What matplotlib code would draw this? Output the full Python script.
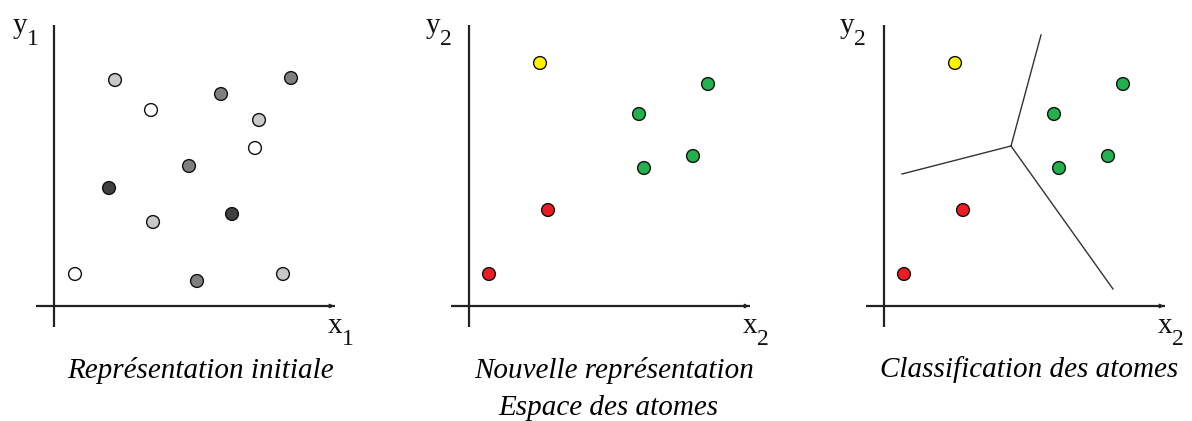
import matplotlib.pyplot as plt

# panel 1: initial representation (x1, y1), grey levels = atom types
init_x = [61, 97, 167, 237, 205, 201, 135, 55, 99, 178, 21, 143, 229]
init_y = [226, 196, 212, 228, 186, 158, 140, 118, 84, 92, 32, 25, 32]
init_fill = ["#c8c8c8", "#ffffff", "#808080", "#808080", "#c8c8c8", "#ffffff", "#808080",
             "#404040", "#c8c8c8", "#404040", "#ffffff", "#808080", "#c8c8c8"]

# panels 2 and 3: atom space (x2, y2)
atom_x = [71, 239, 170, 224, 175, 79, 20]
atom_y = [243, 222, 192, 150, 138, 96, 32]
atom_fill = ["#fff200", "#22b14c", "#22b14c", "#22b14c", "#22b14c", "#ed1c24", "#ed1c24"]

# classification boundaries (from the junction point outwards)
center = (127, 160)
bound_ends = [(157, 271), (18, 132), (229, 17)]

W, H = 1192, 421
plt.rcParams["font.family"] = ["Liberation Serif", "DejaVu Serif"]

fig = plt.figure(figsize=(W / 100, H / 100), dpi=100)


def make_panel(left, right, origin_x, origin_y=306):
    ax = fig.add_axes([left / W, 0, (right - left) / W, 1])
    ax.set_xlim(left - origin_x, right - origin_x)
    ax.set_ylim(origin_y - H, origin_y)
    ax.axis("off")
    # axes drawn by hand
    ax.plot([0, 0], [-21, 281], color="#222222", lw=1.6, solid_capstyle="butt")
    ax.plot([-18, 281], [0, 0], color="#222222", lw=1.6, solid_capstyle="butt")
    ax.annotate("", xy=(283, 0), xytext=(276, 0),
                arrowprops=dict(arrowstyle="-|>", color="#222222", lw=1.0,
                                mutation_scale=6))
    return ax


def sub_label(ax, letter, index, x, y):
    ax.text(x, y, letter, fontsize=21, ha="left", va="baseline", color="#111111")
    ax.text(x + 14, y - 12, index, fontsize=17, ha="left", va="baseline", color="#111111")


def axis_labels(ax, xname, yname, idx, ylab_x):
    sub_label(ax, xname, idx, 274, -27)
    sub_label(ax, yname, idx, ylab_x, 273)


def caption(ax, x, y, s):
    ax.text(x, y, s, fontsize=21, style="italic", ha="center", va="center")


ax1 = make_panel(0, 400, 54)
ax1.scatter(init_x, init_y, s=85, c=init_fill, edgecolors="#111111", linewidths=1.0,
            zorder=3, clip_on=False)
axis_labels(ax1, "x", "y", "1", -41)
caption(ax1, 200 - 54, 306 - 370, "Représentation initiale")

ax2 = make_panel(400, 800, 469)
ax2.scatter(atom_x, atom_y, s=85, c=atom_fill, edgecolors="#111111", linewidths=1.0,
            zorder=3, clip_on=False)
axis_labels(ax2, "x", "y", "2", -43)
caption(ax2, 614 - 469, 306 - 370, "Nouvelle représentation")
caption(ax2, 608 - 469, 306 - 408, "Espace des atomes")

ax3 = make_panel(800, 1192, 884)
for ex, ey in bound_ends:
    ax3.plot([center[0], ex], [center[1], ey], color="#333333", lw=1.0)
ax3.scatter(atom_x, atom_y, s=85, c=atom_fill, edgecolors="#111111", linewidths=1.0,
            zorder=3, clip_on=False)
axis_labels(ax3, "x", "y", "2", -44)
caption(ax3, 1029 - 884, 306 - 370, "Classification des atomes")

fig.savefig("out.png", dpi=100)
